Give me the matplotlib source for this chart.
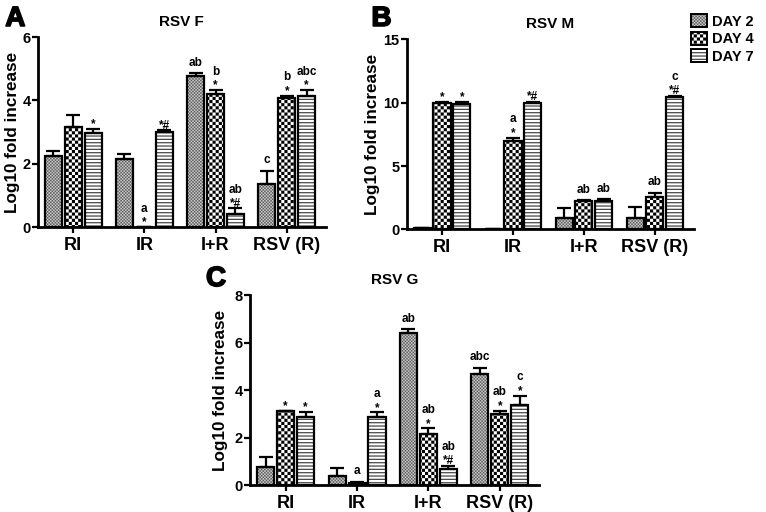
import warnings
import numpy as np
import matplotlib
matplotlib.use('Agg')
import matplotlib.pyplot as plt
import matplotlib.hatch as mhatch
import matplotlib.patheffects as pe
from matplotlib.path import Path
from matplotlib.patches import Patch

warnings.filterwarnings('ignore')

plt.rcParams['font.family'] = 'Liberation Sans'
plt.rcParams['font.weight'] = 'bold'
plt.rcParams['hatch.linewidth'] = 0.0

groups = ['RI', 'IR', 'I+R', 'RSV (R)']
days = ['DAY 2', 'DAY 4', 'DAY 7']

# RSV F
f_mean = [[2.25, 2.15, 4.76, 1.36],
          [3.16, 0.0, 4.19, 4.06],
          [2.97, 2.99, 0.41, 4.13]]
f_err = [[0.14, 0.17, 0.10, 0.42],
         [0.39, 0.0, 0.13, 0.08],
         [0.12, 0.07, 0.18, 0.19]]
f_notes = [['', '', 'ab', 'c'],
           ['', 'a\n*', 'b\n*', 'b\n*'],
           ['*', '*#', 'ab\n*#', 'abc\n*']]

# RSV M
m_mean = [[0.13, 0.02, 0.92, 0.92],
          [9.98, 6.97, 2.26, 2.57],
          [9.90, 10.0, 2.26, 10.42]]
m_err = [[0.0, 0.0, 0.74, 0.87],
         [0.10, 0.26, 0.06, 0.32],
         [0.15, 0.05, 0.13, 0.13]]
m_notes = [['', '', '', ''],
           ['*', 'a\n*', 'ab', 'ab'],
           ['*', '*#', 'ab', 'c\n*#']]

# RSV G
g_mean = [[0.77, 0.37, 6.39, 4.69],
          [3.12, 0.10, 2.16, 2.99],
          [2.88, 2.88, 0.67, 3.37]]
g_err = [[0.41, 0.35, 0.17, 0.25],
         [0.0, 0.03, 0.23, 0.13],
         [0.19, 0.18, 0.14, 0.38]]
g_notes = [['', '', 'ab', 'abc'],
           ['*', 'a', 'ab\n*', 'ab\n*'],
           ['*', 'a\n*', 'ab\n*#', 'c\n*']]


# checkerboard and stripe fills like the old GraphPad patterns
class Checker(mhatch.HatchPatternBase):
    def __init__(self, hatch, density):
        self.n = 32 * hatch.count('c')
        self.num_vertices = (self.n * self.n // 2) * 5

    def set_vertices_and_codes(self, vertices, codes):
        s = 1.0 / self.n
        k = 0
        for i in range(self.n):
            for j in range(self.n):
                if (i + j) % 2 == 0:
                    x0, y0 = i * s, j * s
                    vertices[k:k + 5] = [(x0, y0), (x0 + s, y0), (x0 + s, y0 + s),
                                         (x0, y0 + s), (x0, y0)]
                    codes[k:k + 5] = [Path.MOVETO, Path.LINETO, Path.LINETO,
                                      Path.LINETO, Path.CLOSEPOLY]
                    k += 5


class Stripes(mhatch.HatchPatternBase):
    def __init__(self, hatch, density):
        self.n = 30 * hatch.count('s')
        self.num_vertices = self.n * 5

    def set_vertices_and_codes(self, vertices, codes):
        p = 1.0 / self.n
        t = 0.38 * p
        for i in range(self.n):
            y0 = i * p
            vertices[i * 5:i * 5 + 5] = [(0, y0), (1, y0), (1, y0 + t), (0, y0 + t), (0, y0)]
            codes[i * 5:i * 5 + 5] = [Path.MOVETO, Path.LINETO, Path.LINETO,
                                      Path.LINETO, Path.CLOSEPOLY]


mhatch._hatch_types.extend([Checker, Stripes])

# look of the three days: face, hatch, hatch colour
styles = [('#cfcfcf', 'cc', '#5a5a5a'),
          ('white', 'c', 'black'),
          ('white', 's', '#4a4a4a')]

offsets = [-0.28, 0.0, 0.28]
width = 0.24
heavy = [pe.withStroke(linewidth=1.2, foreground='black')]


def note(ax, x, top, text):
    if not text:
        return
    lines = text.split('\n')
    star = lines[-1] if '*' in lines[-1] else ''
    letters = lines[0] if '*' not in lines[0] else ''
    if star:
        ax.annotate(star, (x, top), xytext=(0, -1), textcoords='offset points',
                    ha='center', va='bottom', fontsize=8.5, fontweight='bold')
    if letters:
        off = 9 if star else 3.2
        ax.annotate(letters, (x, top), xytext=(0, off), textcoords='offset points',
                    ha='center', va='bottom', fontsize=8.5, fontweight='bold')


def panel(rect, means, errs, notes, ymax, ystep, title, letter, letter_xy, ylab_x):
    ax = fig.add_axes(rect)
    xs = np.arange(len(groups))
    for d in range(3):
        face, hatch, hcol = styles[d]
        pos = xs + offsets[d]
        ax.bar(pos, means[d], width, color=face, hatch=hatch, edgecolor=hcol,
               linewidth=0, zorder=2)
        ax.bar(pos, means[d], width, fill=False, edgecolor='black',
               linewidth=1.6, zorder=3)
        ax.errorbar(pos, means[d], yerr=[np.zeros(4), errs[d]], fmt='none',
                    ecolor='black', elinewidth=1.6, capsize=5, capthick=1.6,
                    zorder=4)
        for i in range(4):
            note(ax, pos[i], means[d][i] + errs[d][i], notes[d][i])
    ax.set_xlim(-0.5, 3.55)
    ax.set_ylim(0, ymax)
    ax.set_yticks(np.arange(0, ymax + 0.01, ystep))
    ax.set_xticks(xs)
    ax.set_xticklabels(groups, fontsize=13, fontweight='bold')
    ax.tick_params(axis='y', labelsize=10.5, width=1.6, length=4, pad=1)
    ax.tick_params(axis='x', width=1.6, length=4, pad=3)
    for lab in ax.get_yticklabels():
        lab.set_fontweight('bold')
    for s in ['top', 'right']:
        ax.spines[s].set_visible(False)
    for s in ['left', 'bottom']:
        ax.spines[s].set_linewidth(2.0)
        ax.spines[s].set_zorder(5)
    ax.set_ylabel('Log10 fold increase', fontsize=12.3, fontweight='bold')
    ax.yaxis.set_label_coords(ylab_x, 0.5)
    ax.set_title(title, fontsize=11, fontweight='bold', pad=8)
    fig.text(letter_xy[0], letter_xy[1], letter, fontsize=20, fontweight='bold',
             ha='center', va='center', path_effects=heavy)
    return ax


fig = plt.figure(figsize=(7.66, 5.12), dpi=100)

panel([0.049, 0.5566, 0.3765, 0.371], f_mean, f_err, f_notes, 6, 2,
      'RSV F', 'A', (0.020, 0.963), -0.062)
panel([0.5307, 0.5521, 0.3753, 0.371], m_mean, m_err, m_notes, 15, 5,
      'RSV M', 'B', (0.498, 0.963), -0.092)
panel([0.3264, 0.0527, 0.3773, 0.371], g_mean, g_err, g_notes, 8, 2,
      'RSV G', 'C', (0.282, 0.455), -0.076)

handles = []
for d in range(3):
    face, hatch, hcol = styles[d]
    handles.append(Patch(facecolor=face, hatch=hatch, edgecolor='black',
                         linewidth=1.4))
leg = fig.legend(handles, days, loc='upper left', bbox_to_anchor=(0.902, 0.972),
                 frameon=False, borderpad=0, borderaxespad=0, handlelength=1.1,
                 handleheight=1.0, handletextpad=0.35, labelspacing=0.2,
                 prop={'weight': 'bold', 'size': 10.5})
# legend keys take the hatch colour from their edge, so recolour per day
for patch, (face, hatch, hcol) in zip(leg.get_patches(), styles):
    patch._hatch_color = matplotlib.colors.to_rgba(hcol)

fig.savefig('out.png', dpi=100)
